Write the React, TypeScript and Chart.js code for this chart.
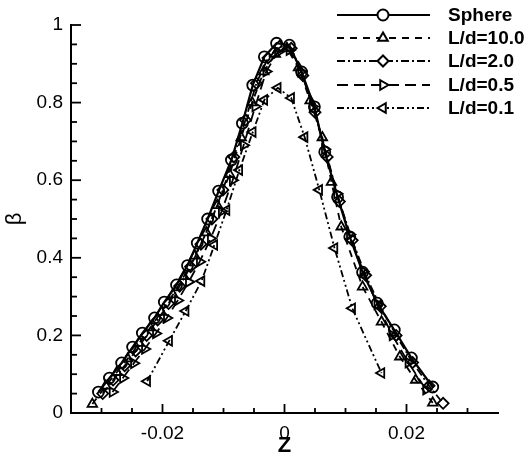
import React, { useEffect, useRef } from 'react';
import { Chart, registerables } from 'chart.js';
import { drawPoint } from 'chart.js/helpers';

Chart.register(...registerables);

const seriesNames = ['Sphere', 'L/d=10.0', 'L/d=2.0', 'L/d=0.5', 'L/d=0.1'];

const sphereX = [-0.0305, -0.0287, -0.0267, -0.0249, -0.0233, -0.0213, -0.0197, -0.0177, -0.0159, -0.0143, -0.0126, -0.0108, -0.0087, -0.0069, -0.0052, -0.0033, -0.0013, 0.0008, 0.0028, 0.0049, 0.0066, 0.0087, 0.0107, 0.0128, 0.0152, 0.018, 0.0208, 0.0243];
const sphereY = [0.054, 0.09, 0.129, 0.17, 0.206, 0.245, 0.286, 0.33, 0.38, 0.438, 0.5, 0.572, 0.652, 0.747, 0.845, 0.918, 0.953, 0.948, 0.879, 0.789, 0.673, 0.557, 0.454, 0.363, 0.283, 0.214, 0.142, 0.067];

const ld10X = [-0.0315, -0.0293, -0.0275, -0.0257, -0.0238, -0.022, -0.0202, -0.0183, -0.0165, -0.0147, -0.0128, -0.011, -0.009, -0.0071, -0.0053, -0.0034, -0.0015, 0.0004, 0.0023, 0.0042, 0.0062, 0.0077, 0.0093, 0.0128, 0.0159, 0.0189, 0.0215, 0.0243];
const ld10Y = [0.023, 0.07, 0.105, 0.14, 0.18, 0.22, 0.26, 0.305, 0.352, 0.405, 0.465, 0.535, 0.615, 0.71, 0.8, 0.88, 0.925, 0.94, 0.89, 0.805, 0.71, 0.595, 0.48, 0.325, 0.235, 0.145, 0.085, 0.026];

const ld2X = [-0.0298, -0.0281, -0.0262, -0.0244, -0.0226, -0.0208, -0.019, -0.0172, -0.0154, -0.0137, -0.0119, -0.0101, -0.0083, -0.0064, -0.0046, -0.0027, -0.0008, 0.0011, 0.003, 0.005, 0.007, 0.009, 0.0111, 0.0133, 0.0157, 0.0183, 0.021, 0.0237, 0.026];
const ld2Y = [0.05, 0.085, 0.122, 0.16, 0.2, 0.24, 0.282, 0.327, 0.377, 0.435, 0.5, 0.575, 0.66, 0.755, 0.85, 0.915, 0.945, 0.94, 0.87, 0.775, 0.66, 0.545, 0.445, 0.355, 0.275, 0.2, 0.13, 0.07, 0.025];

const ld05X = [-0.0282, -0.0265, -0.0247, -0.0229, -0.0211, -0.0193, -0.0175, -0.0157, -0.0139, -0.0121, -0.0103, -0.0085, -0.0067, -0.0048, -0.003, -0.0011, 0.0008, 0.0027, 0.0046, 0.0066, 0.0086, 0.0107, 0.0129, 0.0152, 0.0177, 0.0203, 0.0232];
const ld05Y = [0.054, 0.09, 0.128, 0.165, 0.205, 0.245, 0.29, 0.338, 0.39, 0.45, 0.52, 0.6, 0.69, 0.79, 0.88, 0.93, 0.935, 0.88, 0.79, 0.68, 0.565, 0.46, 0.365, 0.28, 0.2, 0.13, 0.06];

const ld01X = [-0.0225, -0.0189, -0.0162, -0.0136, -0.0115, -0.0095, -0.0074, -0.0052, -0.0033, -0.0011, 0.0011, 0.0033, 0.0057, 0.0082, 0.0111, 0.0159];
const ld01Y = [0.082, 0.186, 0.263, 0.34, 0.433, 0.523, 0.626, 0.724, 0.807, 0.838, 0.812, 0.711, 0.575, 0.425, 0.27, 0.103];

const xMajorTicks = [-0.02, 0, 0.02];
const xMinorTicks = [-0.03, -0.025, -0.015, -0.01, -0.005, 0.005, 0.01, 0.015, 0.025, 0.03];
const yMajorTicks = [0, 0.2, 0.4, 0.6, 0.8, 1];
const yMinorTicks = [0.05, 0.1, 0.15, 0.25, 0.3, 0.35, 0.45, 0.5, 0.55, 0.65, 0.7, 0.75, 0.85, 0.9, 0.95];

const FONT = '"Liberation Sans", Arial, Helvetica, sans-serif';

const styles = [
  { dash: [], point: 'circle', rot: 0, width: 2.2 },
  { dash: [7, 6], point: 'triangle', rot: 0, width: 1.8 },
  { dash: [8, 3, 2, 3], point: 'rectRot', rot: 0, width: 1.8 },
  { dash: [11, 6], point: 'triangle', rot: 90, width: 1.8 },
  { dash: [7, 3, 2, 3, 2, 3], point: 'triangle', rot: -90, width: 1.8 },
];

const pts = (xs: number[], ys: number[]) => xs.map((x, i) => ({ x, y: ys[i] }));
const allData = [
  pts(sphereX, sphereY),
  pts(ld10X, ld10Y),
  pts(ld2X, ld2Y),
  pts(ld05X, ld05Y),
  pts(ld01X, ld01Y),
];

const decorPlugin = {
  id: 'decor',
  afterDraw(chart: any) {
    const ctx = chart.ctx;
    const xs = chart.scales.x;
    const ys = chart.scales.y;
    const { left, bottom } = chart.chartArea;
    ctx.save();
    ctx.strokeStyle = '#000';
    ctx.lineWidth = 1.8;
    ctx.setLineDash([]);
    const xt = (v: number, len: number) => {
      const p = xs.getPixelForValue(v);
      ctx.beginPath();
      ctx.moveTo(p, bottom);
      ctx.lineTo(p, bottom - len);
      ctx.stroke();
    };
    const yt = (v: number, len: number) => {
      const p = ys.getPixelForValue(v);
      ctx.beginPath();
      ctx.moveTo(left, p);
      ctx.lineTo(left + len, p);
      ctx.stroke();
    };
    xMajorTicks.forEach((v) => xt(v, 9));
    xMinorTicks.forEach((v) => xt(v, 5));
    yMajorTicks.forEach((v) => yt(v, 10));
    yMinorTicks.forEach((v) => yt(v, 6));

    // axis titles
    ctx.fillStyle = '#000';
    ctx.font = `bold 22px ${FONT}`;
    ctx.textAlign = 'center';
    ctx.textBaseline = 'middle';
    ctx.fillText('Z', xs.getPixelForValue(0), 446);
    ctx.save();
    ctx.translate(15, ys.getPixelForValue(0.5));
    ctx.rotate(-Math.PI / 2);
    ctx.font = `22px ${FONT}`;
    ctx.fillText('β', 0, 0);
    ctx.restore();

    // legend
    const rows = [15, 38, 61, 85, 108];
    chart.data.datasets.forEach((ds: any, i: number) => {
      const y = rows[i];
      ctx.save();
      ctx.strokeStyle = '#000';
      ctx.lineWidth = ds.borderWidth;
      ctx.setLineDash(ds.borderDash || []);
      ctx.beginPath();
      ctx.moveTo(337, y);
      ctx.lineTo(430, y);
      ctx.stroke();
      ctx.setLineDash([]);
      ctx.fillStyle = '#fff';
      ctx.lineWidth = 2;
      drawPoint(ctx, { pointStyle: ds.pointStyle, rotation: ds.pointRotation, radius: 5.5, borderWidth: 2 }, 383, y);
      ctx.restore();
      ctx.fillStyle = '#000';
      ctx.font = `bold 19px ${FONT}`;
      ctx.textAlign = 'left';
      ctx.textBaseline = 'middle';
      ctx.fillText(seriesNames[i], 448, y + 1);
    });
    ctx.restore();
  },
};

export default function App() {
  const ref = useRef<HTMLCanvasElement | null>(null);
  useEffect(() => {
    if (!ref.current) return;
    const chart = new Chart(ref.current, {
      type: 'line',
      data: {
        datasets: seriesNames.map((name, i) => ({
          label: name,
          data: allData[i],
          borderColor: '#000',
          borderWidth: styles[i].width,
          borderDash: styles[i].dash,
          pointStyle: styles[i].point as any,
          pointRotation: styles[i].rot,
          pointRadius: 5.5,
          pointBorderWidth: 1.8,
          pointBorderColor: '#000',
          pointBackgroundColor: 'rgba(255,255,255,0)',
          tension: 0,
          fill: false,
        })),
      },
      options: {
        animation: false,
        responsive: false,
        maintainAspectRatio: false,
        parsing: false as any,
        layout: { padding: { top: 25, right: 32, left: 0, bottom: 0 } },
        plugins: { legend: { display: false }, tooltip: { enabled: false } },
        scales: {
          x: {
            type: 'linear',
            min: -0.035,
            max: 0.035,
            grid: { display: false, drawTicks: false },
            border: { display: true, color: '#000', width: 2 },
            afterBuildTicks: (s: any) => { s.ticks = xMajorTicks.map((v) => ({ value: v })); },
            afterFit: (s: any) => { s.height = 44; },
            ticks: {
              color: '#000',
              padding: 9,
              maxRotation: 0,
              font: { family: FONT, size: 19 },
              callback: (v: any) => String(Number(v)),
            },
          },
          y: {
            type: 'linear',
            min: 0,
            max: 1,
            grid: { display: false, drawTicks: false },
            border: { display: true, color: '#000', width: 2 },
            afterBuildTicks: (s: any) => { s.ticks = yMajorTicks.map((v) => ({ value: v })); },
            afterFit: (s: any) => { s.width = 71; },
            ticks: {
              color: '#000',
              padding: 8,
              font: { family: FONT, size: 19 },
              callback: (v: any) => String(Number(v)),
            },
          },
        },
      },
      plugins: [decorPlugin],
    });
    return () => chart.destroy();
  }, []);
  return (
    <div style={{ position: 'absolute', left: 0, top: 0, width: 530, height: 457, background: '#fff' }}>
      <canvas ref={ref} width={530} height={457} style={{ width: 530, height: 457 }} />
    </div>
  );
}
